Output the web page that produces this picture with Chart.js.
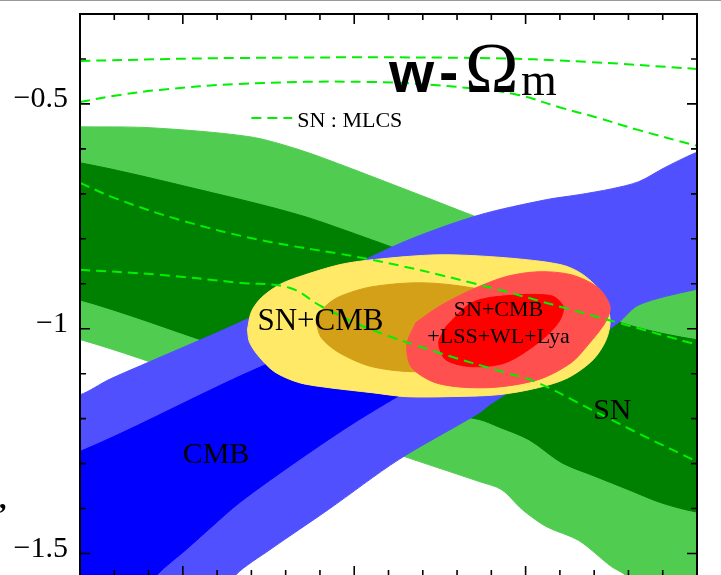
<!DOCTYPE html>
<html>
<head>
<meta charset="utf-8">
<script src="https://cdn.jsdelivr.net/npm/chart.js@4.4.0/dist/chart.umd.min.js"></script>
<style>
html, body { margin: 0; padding: 0; background: #fff; overflow: hidden; }
#wrap { position: relative; width: 721px; height: 575px; overflow: hidden; }
canvas { display: block; }
</style>
</head>
<body>
<div id="wrap"><canvas id="wplot" width="721" height="600"></canvas></div>
<script>
// contours in the (Omega_m, w) plane
// each one is a closed outline: [Omega_m, w]
const snOuter = [[0.02,-0.551],[0.04,-0.551],[0.081,-0.553],[0.139,-0.573],[0.168,-0.602],[0.197,-0.642],[0.238,-0.702],[0.284,-0.769],[0.331,-0.824],[0.366,-0.864],[0.399,-0.913],[0.42,-0.93],
  [0.42,-1.65],[0.38,-1.62],[0.358,-1.547],[0.350,-1.529],[0.331,-1.471],[0.312,-1.44],[0.298,-1.402],[0.286,-1.358],[0.273,-1.34],[0.226,-1.28],[0.168,-1.202],[0.11,-1.113],[0.04,-1.024],[0.02,-1.015]];
const snInner = [[0.02,-0.628],[0.04,-0.631],[0.11,-0.691],[0.168,-0.747],[0.21,-0.802],[0.255,-0.864],[0.313,-0.936],[0.366,-0.998],[0.399,-1.024],[0.42,-1.03],
  [0.42,-1.415],[0.399,-1.407],[0.379,-1.387],[0.36,-1.358],[0.341,-1.329],[0.321,-1.298],[0.302,-1.247],[0.284,-1.218],[0.273,-1.202],[0.226,-1.169],[0.168,-1.102],[0.11,-1.024],[0.04,-0.936],[0.02,-0.93]];
const cmbOuter = [[0.02,-1.16],[0.04,-1.147],[0.057,-1.113],[0.081,-1.073],[0.139,-0.976],[0.197,-0.864],[0.232,-0.802],[0.273,-0.747],[0.312,-0.713],[0.331,-0.702],[0.35,-0.689],[0.366,-0.673],[0.381,-0.642],[0.399,-0.609],[0.42,-0.58],
  [0.42,-0.9],[0.399,-0.913],[0.366,-0.947],[0.354,-0.987],[0.331,-1.047],[0.302,-1.113],[0.279,-1.169],[0.273,-1.187],[0.226,-1.291],[0.185,-1.402],[0.151,-1.491],[0.131,-1.547],[0.11,-1.647],[0.09,-1.7],[0.02,-1.7]];
const cmbInner = [[0.02,-1.285],[0.04,-1.273],[0.129,-1.113],[0.168,-1.047],[0.214,-0.969],[0.255,-0.918],[0.295,-0.9],[0.325,-0.93],[0.313,-0.98],[0.284,-1.036],[0.243,-1.113],[0.203,-1.202],[0.168,-1.291],[0.133,-1.387],[0.117,-1.44],[0.102,-1.491],[0.085,-1.547],[0.063,-1.647],[0.05,-1.7],[0.02,-1.7]];
const snCmbOuter = [[0.1377,-1.0022],[0.14,-0.9622],[0.1458,-0.9311],[0.1563,-0.9022],[0.1679,-0.8844],[0.1912,-0.8578],[0.2103,-0.8467],[0.2493,-0.8356],[0.2883,-0.8422],[0.3208,-0.8578],[0.3336,-0.88],[0.3452,-0.9244],[0.3493,-0.98],[0.347,-1.0244],[0.3394,-1.0689],[0.3249,-1.1089],[0.3074,-1.1311],[0.2842,-1.1467],[0.2551,-1.1511],[0.2301,-1.1511],[0.2103,-1.1422],[0.1853,-1.1311],[0.1679,-1.12],[0.1534,-1.0956],[0.1435,-1.0578],[0.1388,-1.0289],[0.1377,-1.0022]];
const snCmbInner = [[0.1778,-0.9867],[0.1824,-0.9533],[0.1912,-0.9289],[0.2103,-0.9067],[0.2394,-0.8978],[0.2685,-0.9089],[0.2958,-0.9356],[0.3074,-0.98],[0.3016,-1.0356],[0.2726,-1.08],[0.2377,-1.0956],[0.2103,-1.0844],[0.1912,-1.0533],[0.1808,-1.02],[0.1778,-0.9867]];
const allOuter = [[0.2359,-0.9867],[0.2493,-0.9511],[0.2685,-0.9133],[0.2883,-0.8844],[0.3074,-0.8733],[0.3266,-0.88],[0.3423,-0.9089],[0.3493,-0.9511],[0.3464,-0.9867],[0.3365,-1.0356],[0.3266,-1.0756],[0.3074,-1.1133],[0.2784,-1.1311],[0.2493,-1.1222],[0.2336,-1.0867],[0.2307,-1.0356],[0.2359,-0.9867]];
const allInner = [[0.2534,-0.9956],[0.2685,-0.9422],[0.2883,-0.9267],[0.315,-0.9267],[0.322,-0.9511],[0.3191,-0.9867],[0.3074,-1.0311],[0.2883,-1.0756],[0.2685,-1.0844],[0.2534,-1.0689],[0.2493,-1.0311],[0.2534,-0.9956]];

// SN : MLCS dashed contours
const mlcs1 = [[0.04,-0.4044],[0.133,-0.3978],[0.2726,-0.3978],[0.3365,-0.4067],[0.40,-0.4222]];
const mlcs2 = [[0.04,-0.4956],[0.0633,-0.48],[0.0865,-0.4689],[0.133,-0.4556],[0.2086,-0.4511],[0.2667,-0.4644],[0.2958,-0.48],[0.3191,-0.5067],[0.3423,-0.5311],[0.3656,-0.5578],[0.40,-0.5933]];
const mlcs3 = [[0.04,-0.6756],[0.0615,-0.7111],[0.0981,-0.7578],[0.1447,-0.8022],[0.2103,-0.8467],[0.2685,-0.8978],[0.3266,-0.9578],[0.354,-0.9867],[0.40,-1.0356]];
const mlcs4 = [[0.04,-0.8689],[0.0865,-0.88],[0.133,-0.8978],[0.1621,-0.9089],[0.1813,-0.9511],[0.2103,-1.0022],[0.2493,-1.0533],[0.2883,-1.0978],[0.3057,-1.1178],[0.3383,-1.18],[0.3697,-1.24],[0.40,-1.2956]];

// axes
const xRange = [0.04, 0.40];
const yRange = [-1.55, -0.3];
const xMajorTicks = [0.1, 0.2, 0.3];
const xMinorTicks = [0.06, 0.08, 0.12, 0.14, 0.16, 0.18, 0.22, 0.24, 0.26, 0.28, 0.32, 0.34, 0.36, 0.38];
const yMajorTicks = [-0.5, -1, -1.5];
const yMajorLabels = ['\u22120.5', '\u22121', '\u22121.5'];
const yMinorTicks = [-0.4, -0.6, -0.7, -0.8, -0.9, -1.1, -1.2, -1.3, -1.4];

// text inside the plot: [text, Omega_m, w, font, align]
const plotLabels = [
  ['SN+CMB', 0.1435, -1.0022, '31px "Liberation Serif"', 'left'],
  ['SN+CMB', 0.2842, -0.9711, '22px "Liberation Serif"', 'center'],
  ['+LSS+WL+Lya', 0.2842, -1.0311, '22px "Liberation Serif"', 'center'],
  ['CMB', 0.0999, -1.2978, '30px "Liberation Serif"', 'left'],
  ['SN', 0.3394, -1.2, '30px "Liberation Serif"', 'left'],
  ['SN : MLCS', 0.1667, -0.5511, '22px "Liberation Serif"', 'left']
];
const legendLine = [[0.14, -0.5311], [0.1638, -0.5311]];

const dashColor = '#00f000';
const dashPattern = [10, 6];

const pts = arr => arr.map(p => ({x: p[0], y: p[1]}));

function area(data, color, order) {
  return {
    data: pts(data),
    backgroundColor: color,
    borderColor: color,
    borderWidth: 1,
    fill: 'shape',
    pointRadius: 0,
    tension: 0.3,
    order: order
  };
}
function dashed(data) {
  return {
    data: pts(data),
    borderColor: dashColor,
    borderWidth: 2,
    borderDash: dashPattern,
    fill: false,
    pointRadius: 0,
    tension: 0.4,
    order: 0
  };
}

const decor = {
  id: 'decor',
  afterDatasetsDraw(chart) {
    const {ctx, chartArea: a, scales: {x, y}} = chart;
    ctx.save();
    // page edge
    ctx.fillStyle = '#999';
    ctx.fillRect(0, 0, 721, 1);

    // legend dash
    ctx.strokeStyle = dashColor;
    ctx.lineWidth = 2;
    ctx.setLineDash(dashPattern);
    ctx.beginPath();
    ctx.moveTo(x.getPixelForValue(legendLine[0][0]), y.getPixelForValue(legendLine[0][1]));
    ctx.lineTo(x.getPixelForValue(legendLine[1][0]), y.getPixelForValue(legendLine[1][1]));
    ctx.stroke();
    ctx.setLineDash([]);

    // frame
    ctx.strokeStyle = '#000';
    ctx.lineWidth = 2;
    ctx.strokeRect(a.left, a.top, a.right - a.left, a.bottom - a.top);

    // inward ticks on all sides
    ctx.lineWidth = 1.6;
    ctx.beginPath();
    const xt = (v, len) => {
      const p = x.getPixelForValue(v);
      ctx.moveTo(p, a.top); ctx.lineTo(p, a.top + len);
      ctx.moveTo(p, a.bottom); ctx.lineTo(p, a.bottom - len);
    };
    const yt = (v, len) => {
      const p = y.getPixelForValue(v);
      ctx.moveTo(a.left, p); ctx.lineTo(a.left + len, p);
      ctx.moveTo(a.right, p); ctx.lineTo(a.right - len, p);
    };
    xMajorTicks.forEach(v => xt(v, 10));
    xMinorTicks.forEach(v => xt(v, 6));
    yMajorTicks.forEach(v => yt(v, 10));
    yMinorTicks.forEach(v => yt(v, 6));
    ctx.stroke();

    // y tick labels
    ctx.fillStyle = '#000';
    ctx.font = '30px "Liberation Serif"';
    ctx.textAlign = 'right';
    ctx.textBaseline = 'alphabetic';
    yMajorTicks.forEach((v, i) => {
      ctx.fillText(yMajorLabels[i], a.left - 12, y.getPixelForValue(v) + 3);
    });
    // what is left of the y axis title
    ctx.font = 'bold 30px "Liberation Serif"';
    ctx.textAlign = 'left';
    ctx.fillText(',', -1, 508);

    // labels in the plot
    plotLabels.forEach(l => {
      ctx.font = l[3];
      ctx.textAlign = l[4];
      ctx.fillText(l[0], x.getPixelForValue(l[1]), y.getPixelForValue(l[2]));
    });

    // title  w-Omega_m
    ctx.textAlign = 'left';
    ctx.font = 'bold 58px "Liberation Sans"';
    ctx.fillText('w', 389, 92);
    ctx.fillText('-', 439, 92);
    ctx.font = '72px "Liberation Serif"';
    ctx.fillText('\u03a9', 465, 92);
    ctx.font = '46px "Liberation Serif"';
    ctx.fillText('m', 521, 95);
    ctx.restore();
  }
};

new Chart(document.getElementById('wplot'), {
  type: 'line',
  data: {
    datasets: [
      dashed(mlcs1), dashed(mlcs2), dashed(mlcs3), dashed(mlcs4),
      area(allInner, '#ff0000', 1),
      area(allOuter, '#ff5050', 2),
      area(snCmbInner, '#d4a017', 3),
      area(snCmbOuter, '#ffe966', 4),
      area(cmbInner, '#0000ff', 5),
      area(cmbOuter, '#5050ff', 6),
      area(snInner, '#008000', 7),
      area(snOuter, '#50cd50', 8)
    ]
  },
  options: {
    responsive: false,
    animation: false,
    events: [],
    layout: { padding: { left: 80, top: 14, right: 24, bottom: 24 } },
    elements: { line: { capBezierPoints: false } },
    plugins: { legend: { display: false }, tooltip: { enabled: false } },
    scales: {
      x: { type: 'linear', min: xRange[0], max: xRange[1], display: false },
      y: { type: 'linear', min: yRange[0], max: yRange[1], display: false }
    }
  },
  plugins: [decor]
});
</script>
</body>
</html>
